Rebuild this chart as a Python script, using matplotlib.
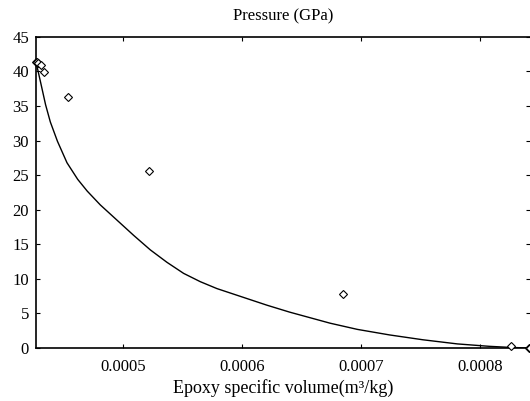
import matplotlib
matplotlib.use("Agg")
import matplotlib.pyplot as plt

plt.rcParams['font.family'] = ['Liberation Serif', 'DejaVu Serif']

# Measured data points (specific volume m^3/kg, pressure GPa)
pt_v = [0.000427, 0.000428, 0.000429, 0.000431, 0.000434, 0.000454, 0.000522,
        0.000685, 0.000826, 0.000841, 0.000842]
pt_p = [41.4, 41.3, 41.2, 41.0, 39.9, 36.3, 25.6, 7.8, 0.3, 0.05, 0.0]

# Fitted curve
cv_v = [0.000427, 0.000428, 0.000431, 0.000435, 0.000439, 0.000445, 0.000453,
        0.000462, 0.000470, 0.000481, 0.000495, 0.000509, 0.000523, 0.000537,
        0.000551, 0.000565, 0.000579, 0.000593, 0.000607, 0.000621, 0.000640,
        0.000657, 0.000674, 0.000697, 0.000724, 0.000752, 0.000781, 0.000808,
        0.000825, 0.000842]
cv_p = [41.3, 40.6, 38.3, 35.2, 32.7, 29.9, 26.8, 24.4, 22.7, 20.7, 18.5,
        16.3, 14.2, 12.4, 10.8, 9.6, 8.6, 7.8, 7.0, 6.2, 5.2, 4.4, 3.6, 2.7,
        1.9, 1.2, 0.6, 0.25, 0.1, 0.0]

x_ticks = [0.0005, 0.0006, 0.0007, 0.0008]
x_tick_labels = ['0.0005', '0.0006', '0.0007', '0.0008']
y_ticks = [0, 5, 10, 15, 20, 25, 30, 35, 40, 45]

fig = plt.figure(figsize=(5.30, 4.01), dpi=100)
ax = fig.add_axes([0.068, 0.132, 0.932, 0.776])

ax.plot(cv_v, cv_p, color='black', lw=1.0, zorder=2,
        solid_joinstyle='round')
ax.plot(pt_v, pt_p, linestyle='none', marker='D', markersize=4.2,
        markerfacecolor='white', markeredgecolor='black', markeredgewidth=0.8,
        clip_on=False, zorder=3)

ax.set_xlim(0.000427, 0.000842)
ax.set_ylim(0, 45)
ax.set_xticks(x_ticks)
ax.set_xticklabels(x_tick_labels)
ax.set_yticks(y_ticks)

ax.tick_params(direction='in', length=3, width=0.8, top=True, right=True,
               labelsize=12, pad=5)
ax.tick_params(axis='x', pad=8)
ax.spines['right'].set_visible(False)
for s in ['left', 'bottom', 'top']:
    ax.spines[s].set_linewidth(1.2)

ax.set_title('Pressure (GPa)', fontsize=12, pad=12)
ax.set_xlabel('Epoxy specific volume(m³/kg)', fontsize=13, labelpad=3)

fig.savefig('out.png', dpi=100)
